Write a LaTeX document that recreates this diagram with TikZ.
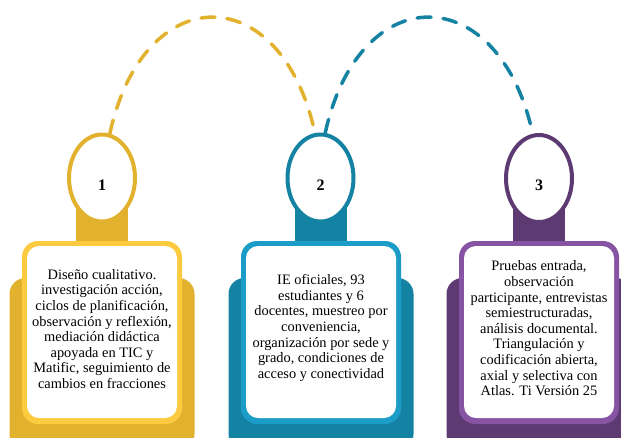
\documentclass[tikz,border=0pt]{standalone}
\usepackage{fontspec}
\setmainfont{Liberation Serif}
\usetikzlibrary{shapes.geometric}
\definecolor{ydark}{HTML}{E2B12E}
\definecolor{ylight}{HTML}{FDCB3F}
\definecolor{tdark}{HTML}{1482A3}
\definecolor{tlight}{HTML}{1C9DC7}
\definecolor{pdark}{HTML}{5E3A72}
\definecolor{plight}{HTML}{8753A3}
\tikzset{
  numoval/.style={ellipse, draw=#1, line width=4pt, fill=white, minimum width=66pt, minimum height=87pt, inner sep=0pt},
  numtext/.style={font=\fontsize{16}{18}\selectfont\bfseries},
  bodytext/.style={align=center, font=\fontsize{14.4}{15.6}\selectfont, inner sep=0pt},
  arcline/.style={draw=#1, line width=3.5pt, dash pattern=on 14pt off 12pt, line cap=round}
}
\begin{document}
\begin{tikzpicture}[x=1pt,y=-1pt]
\clip (0,0) rectangle (621,437);
\useasboundingbox (0,0) rectangle (621,437);
\fill[white] (0,0) rectangle (621,437);
\foreach \cx/\dk/\lt in {102/ydark/ylight, 321/tdark/tlight, 539/pdark/plight}{
  \fill[\dk, rounded corners=16pt] (\cx-92.5,278) rectangle (\cx+92.5,450);
  \fill[\dk] (\cx-26,190) rectangle (\cx+26,245);
  \fill[\lt, rounded corners=16pt] (\cx-80,241) rectangle (\cx+80,424);
  \fill[white, rounded corners=12pt] (\cx-75,246) rectangle (\cx+75,418);
}
\node[numoval=ydark] (e1) at (102,178) {};
\node[numoval=tdark] (e2) at (320.5,178) {};
\node[numoval=pdark] (e3) at (539,178.5) {};
\node[numtext] (n1) at (102,185) {1};
\node[numtext] (n2) at (320.5,185) {2};
\node[numtext] (n3) at (539,185) {3};
\draw[arcline=ydark] (e1.80) .. controls +(34,-155) and +(-34,-155) .. (e2.97);
\draw[arcline=tdark] (e2.84) .. controls +(34,-155) and +(-34,-155) .. (e3.98);
\node[bodytext] (t1) at (102,329) {Diseño cualitativo.\\investigación acción,\\ciclos de planificación,\\observación y reflexión,\\mediación didáctica\\apoyada en TIC y\\Matific, seguimiento de\\cambios en fracciones};
\node[bodytext] (t2) at (321,328) {IE oficiales, 93\\estudiantes y 6\\docentes, muestreo por\\conveniencia,\\organización por sede y\\grado, condiciones de\\acceso y conectividad};
\node[bodytext] (t3) at (539,328.5) {Pruebas entrada,\\observación\\participante, entrevistas\\semiestructuradas,\\análisis documental.\\Triangulación y\\codificación abierta,\\axial y selectiva con\\Atlas. Ti Versión 25};
\end{tikzpicture}
\end{document}
